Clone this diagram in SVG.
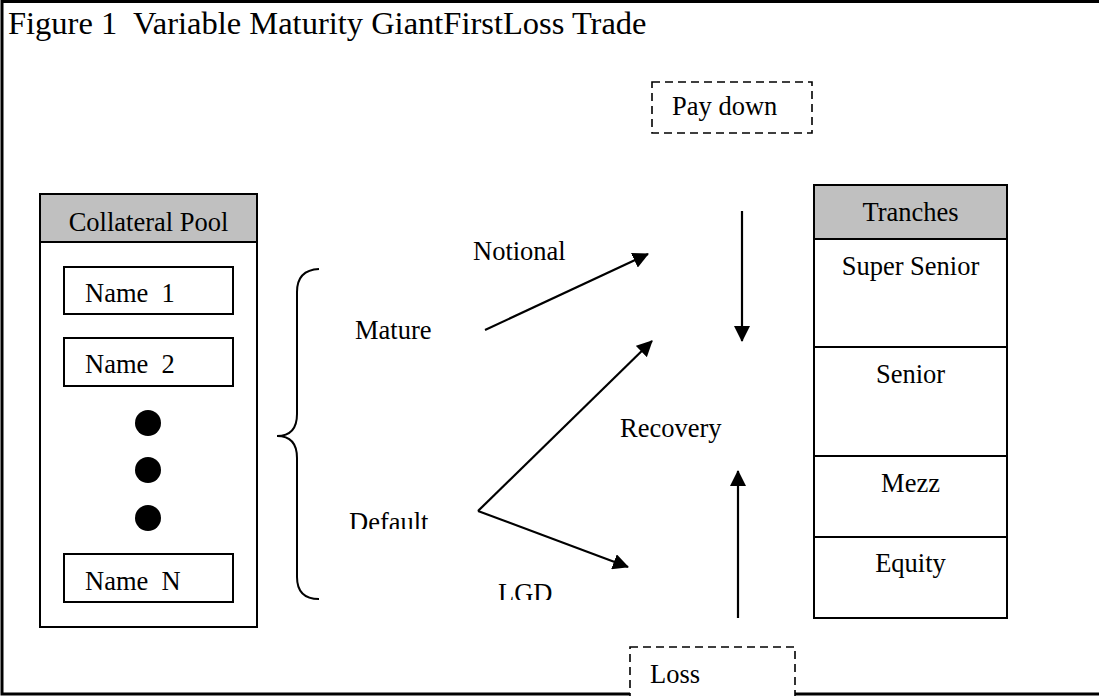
<svg xmlns="http://www.w3.org/2000/svg" width="1099" height="696" viewBox="0 0 1099 696">
<style>
text{font-family:"Liberation Serif","Times New Roman",serif;font-size:26.5px;fill:#000;white-space:pre}
.title{font-size:32.5px}
.box{fill:#fff;stroke:#000;stroke-width:2}
.hdr{fill:#c0c0c0;stroke:#000;stroke-width:2}
.dash{fill:#fff;stroke:#000;stroke-width:1.6;stroke-dasharray:8 5}
.conn{stroke:#000;stroke-width:2.2;fill:none}
.mid{text-anchor:middle}
</style>
<defs>
<marker id="ah" viewBox="0 0 16 16" refX="15" refY="8" markerWidth="16" markerHeight="16" markerUnits="userSpaceOnUse" orient="auto">
<path d="M0,0 L16,8 L0,16 Z" fill="#000"/>
</marker>
<clipPath id="clipDefault"><rect x="300" y="490" width="200" height="39"/></clipPath>
<clipPath id="clipLGD"><rect x="450" y="560" width="200" height="40"/></clipPath>
</defs>
<rect width="1099" height="696" fill="#fff"/>
<g id="frame">
<path d="M1110,1.5 H2 V694 H1110" fill="none" stroke="#000" stroke-width="3"/>
<text class="title" x="8" y="34" xml:space="preserve">Figure 1  Variable Maturity GiantFirstLoss Trade</text>
</g>
<g id="collateral-pool">
<rect class="box" x="40" y="194" width="217" height="433"/>
<rect class="hdr" x="40" y="194" width="217" height="48"/>
<text class="mid" x="148.5" y="231">Collateral Pool</text>
</g>
<g id="name1">
<rect class="box" x="64" y="267" width="169" height="47"/>
<text x="85" y="302" xml:space="preserve">Name  1</text>
</g>
<g id="name2">
<rect class="box" x="64" y="338" width="169" height="48"/>
<text x="85" y="373" xml:space="preserve">Name  2</text>
</g>
<g id="dots">
<circle cx="148" cy="423" r="13"/>
<circle cx="148" cy="470" r="13"/>
<circle cx="148" cy="518" r="13"/>
</g>
<g id="nameN">
<rect class="box" x="64" y="554" width="169" height="48"/>
<text x="85" y="590" xml:space="preserve">Name  N</text>
</g>
<g id="brace">
<path d="M319,269 Q297,270 297,292 V414 Q297,436 277,436 Q297,436 297,458 V577 Q297,599 319,599" fill="none" stroke="#000" stroke-width="2"/>
</g>
<g id="labels">
<text x="473" y="260">Notional</text>
<text x="355" y="339">Mature</text>
<text x="349" y="531" clip-path="url(#clipDefault)">Default</text>
<text x="498" y="602" clip-path="url(#clipLGD)">LGD</text>
<text x="620" y="437">Recovery</text>
</g>
<g id="paydown">
<rect class="dash" x="652" y="82" width="160" height="51"/>
<text x="672" y="115">Pay down</text>
</g>
<g id="loss">
<rect class="dash" x="630" y="647" width="165" height="70"/>
<text x="650" y="683">Loss</text>
</g>
<g id="tranches">
<rect class="box" x="814" y="185" width="193" height="433"/>
<rect class="hdr" x="814" y="185" width="193" height="54"/>
<line x1="814" y1="347" x2="1007" y2="347" stroke="#000" stroke-width="2"/>
<line x1="814" y1="456" x2="1007" y2="456" stroke="#000" stroke-width="2"/>
<line x1="814" y1="537" x2="1007" y2="537" stroke="#000" stroke-width="2"/>
<text class="mid" x="910.5" y="221">Tranches</text>
<text class="mid" x="910.5" y="275">Super Senior</text>
<text class="mid" x="910.5" y="383">Senior</text>
<text class="mid" x="910.5" y="492">Mezz</text>
<text class="mid" x="910.5" y="572">Equity</text>
</g>
<g id="connectors">
<line class="conn" x1="485" y1="330" x2="648" y2="254" marker-end="url(#ah)"/>
<line class="conn" x1="478" y1="511" x2="652" y2="341" marker-end="url(#ah)"/>
<line class="conn" x1="478" y1="511" x2="628" y2="567" marker-end="url(#ah)"/>
<line class="conn" x1="742" y1="211" x2="742" y2="341" marker-end="url(#ah)"/>
<line class="conn" x1="738" y1="618" x2="738" y2="471" marker-end="url(#ah)"/>
</g>
</svg>
